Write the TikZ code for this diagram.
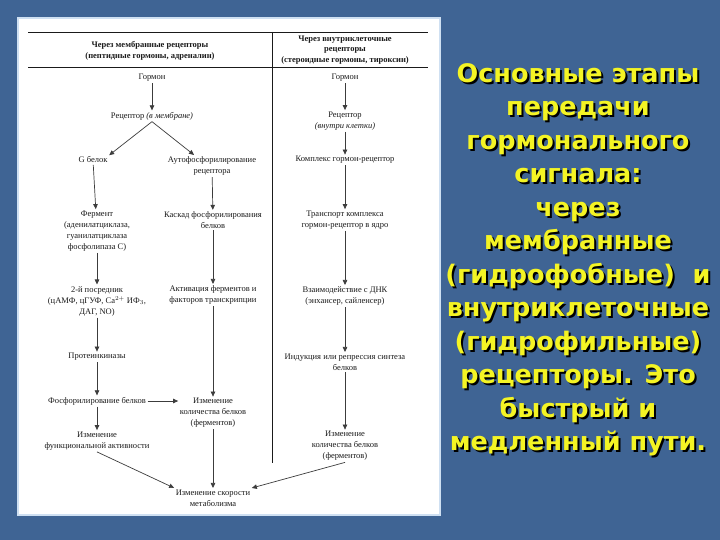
\documentclass[tikz,border=0pt]{standalone}
\usepackage{fontspec}
\newfontfamily\scanfont{Liberation Serif}
\newfontfamily\slidefont{DejaVu Sans}
\usetikzlibrary{arrows.meta}
\definecolor{slideBlue}{HTML}{3F6494}
\definecolor{slideEdge}{HTML}{CFE0F2}
\definecolor{slideYellow}{HTML}{F4F424}
\definecolor{scanInk}{HTML}{1A1A1A}
\tikzset{
  >={Triangle[length=5pt,width=4.5pt]},
  txt/.style={align=center, inner sep=1.5pt, text=scanInk,
              font=\scanfont\fontsize{8.5}{11}\selectfont},
  hdr/.style={txt, font=\scanfont\bfseries\fontsize{8.5}{11.5}\selectfont},
  rule/.style={draw=scanInk, line width=0.8pt},
  flow/.style={->, draw=scanInk!85, line width=0.7pt},
  title/.style={align=center, inner sep=0pt,
              font=\slidefont\bfseries\fontsize{25.5}{33.5}\selectfont},
}
\begin{document}
\begin{tikzpicture}[x=1pt,y=-1pt]
    \useasboundingbox (0,0) rectangle (720,540);
    % slide and scanned sheet
    \fill[slideBlue] (0,0) rectangle (720,540);
    \draw[draw=slideEdge, line width=2pt, fill=white] (18,18) rectangle (440,515);
    \draw[rule] (28,32) -- (428,32);
    \draw[rule] (28,67) -- (428,67);
    \draw[rule, line width=0.6pt] (272,32) -- (272,463);
    % headers
    \node[hdr] (hdrL) at (150,51) {Через мембранные рецепторы\\(пептидные гормоны, адреналин)};
    \node[hdr,font=\scanfont\bfseries\fontsize{8.5}{10.5}\selectfont] (hdrR) at (345,50)
      {Через внутриклеточные\\рецепторы\\(стероидные гормоны, тироксин)};
    % membrane pathway
    \node[txt] (gL) at (152,78) {Гормон};
    \node[txt] (recL) at (152,116) {Рецептор \textit{(в мембране)}};
    \node[txt] (gprot) at (93,160) {G белок};
    \node[txt] (auto) at (212,166) {Аутофосфорилирование\\рецептора};
    \node[txt] (ferm) at (97,231) {Фермент\\(аденилатциклаза,\\гуанилатциклаза\\фосфолипаза С)};
    \node[txt] (casc) at (213,220) {Каскад фосфорилирования\\белков};
    \node[txt] (mess) at (97,301) {2-й посредник\\(цАМФ, цГУФ, Ca$^{2+}$ ИФ$_3$,\\ДАГ, NO)};
    \node[txt] (act) at (213,295) {Активация ферментов и\\факторов транскрипции};
    \node[txt] (pk) at (97,357) {Протеинкиназы};
    \node[txt] (phos) at (97,401) {Фосфорилирование белков};
    \node[txt] (amtM) at (213,413) {Изменение\\количества белков\\(ферментов)};
    \node[txt] (func) at (97,441) {Изменение\\функциональной активности};
    \node[txt] (meta) at (213,498) {Изменение скорости\\метаболизма};
    % intracellular pathway
    \node[txt] (gR) at (345,78) {Гормон};
    \node[txt] (recR) at (345,121) {Рецептор\\\textit{(внутри клетки)}};
    \node[txt] (cplx) at (345,160) {Комплекс гормон-рецептор};
    \node[txt] (trans) at (345,220) {Транспорт комплекса\\гормон-рецептор в ядро};
    \node[txt] (dna) at (345,296) {Взаимодействие с ДНК\\(энхансер, сайленсер)};
    \node[txt] (ind) at (345,362) {Индукция или репрессия синтеза\\белков};
    \node[txt] (amtR) at (345,446) {Изменение\\количества белков\\(ферментов)};
    % arrows
    \draw[flow] (gL) -- (recL);
    \draw[flow] (recL.south) -- (gprot.north east);
    \draw[flow] (recL.south) -- ([xshift=-18pt]auto.north);
    \draw[flow] (gprot) -- (ferm);
    \draw[flow] (auto) -- (casc);
    \draw[flow] (ferm) -- (mess);
    \draw[flow] (casc) -- (act);
    \draw[flow] (mess) -- (pk);
    \draw[flow] (pk) -- (phos);
    \draw[flow] (act) -- (amtM);
    \draw[flow] (phos.east) -- (phos.east -| amtM.west);
    \draw[flow] (phos) -- (func);
    \draw[flow] (func.south) -- (meta.north west);
    \draw[flow] (amtM) -- (meta);
    \draw[flow] (gR) -- (recR);
    \draw[flow] (recR) -- (cplx);
    \draw[flow] (cplx) -- (trans);
    \draw[flow] (trans) -- (dna);
    \draw[flow] (dna) -- (ind);
    \draw[flow] (ind) -- (amtR);
    \draw[flow] (amtR.south) -- (meta.north east);
    % slide title
    \node[title,text=black] (ttlShadow) at (580,262)
      {Основные этапы\\передачи\\гормонального\\сигнала:\\через\\мембранные\\(гидрофобные)~ и\\внутриклеточные\\(гидрофильные)\\рецепторы. Это\\быстрый и\\медленный пути.};
    \node[title,text=slideYellow] (ttl) at (578,260)
      {Основные этапы\\передачи\\гормонального\\сигнала:\\через\\мембранные\\(гидрофобные)~ и\\внутриклеточные\\(гидрофильные)\\рецепторы. Это\\быстрый и\\медленный пути.};
  \end{tikzpicture}
\end{document}
